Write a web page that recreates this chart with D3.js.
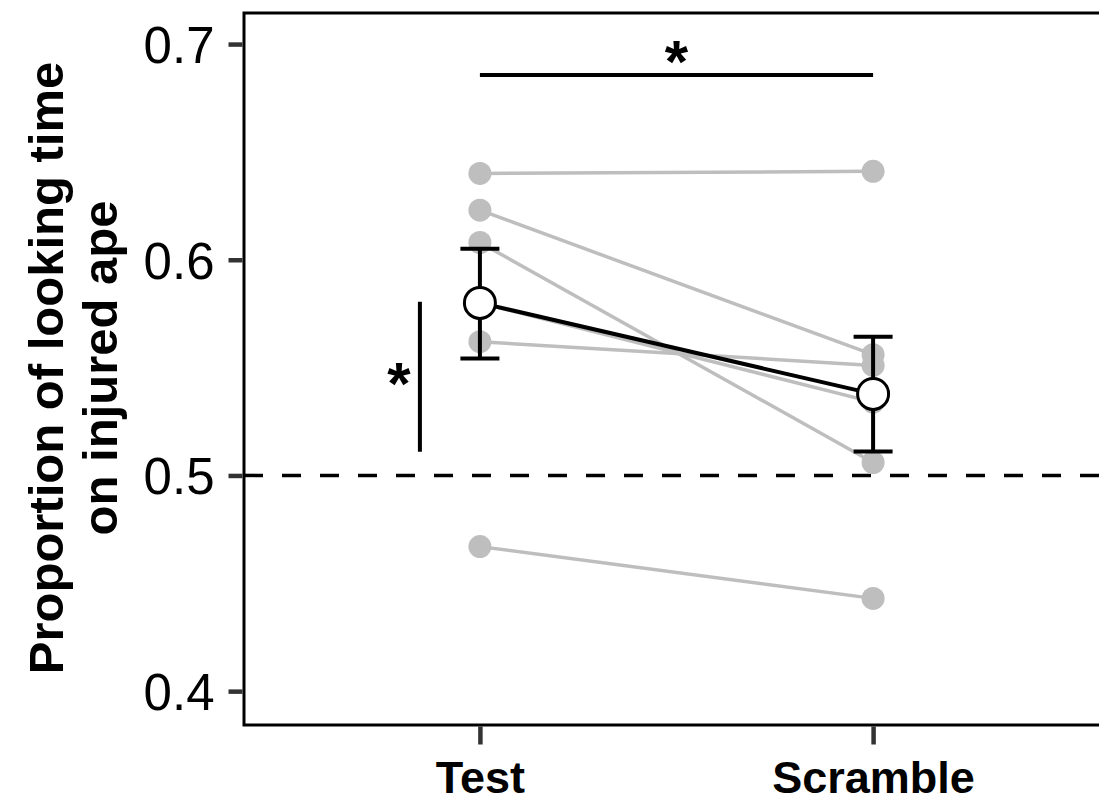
<!DOCTYPE html>
<html lang="en">
<head>
  <meta charset="UTF-8">
  <title>Looking time</title>
  <style>
    body { margin: 0; background: #fff; }
    text { font-family: "Liberation Sans", Arial, sans-serif; }
  </style>
</head>
<body>
  <div id="main"></div>
  <script src="https://cdn.jsdelivr.net/npm/d3@7"></script>
  <script>
    // data
    const conditions = ["Test", "Scramble"]
    const testValues = [0.640, 0.623, 0.608, 0.580, 0.562, 0.467]
    const scrambleValues = [0.641, 0.556, 0.506, 0.534, 0.551, 0.443]
    const means = [0.580, 0.5378]
    const errLow = [0.5542, 0.5111]
    const errHigh = [0.6051, 0.5643]
    const yTicks = [0.4, 0.5, 0.6, 0.7]
    const chanceLevel = 0.5
    // significance: test vs scramble, test vs chance
    const sigPairLevel = 0.6856
    const sigChanceRange = [0.511, 0.5805]

    const W = 1099, H = 803
    const panel = { left: 244, right: 1109, top: 13, bottom: 725 }

    const svg = d3.select('#main').append('svg')
      .attr('width', W)
      .attr('height', H)
      .style('display', 'block')

    const x = d3.scalePoint()
      .domain(conditions)
      .range([panel.left, panel.right])
      .padding(0.6)

    const y = d3.scaleLinear()
      .domain([0.3843, 0.7144])
      .range([panel.bottom, panel.top])

    const grey = '#bebebe'

    // 参考线 0.5
    function drawChance() {
      svg.append('line')
        .attr('x1', panel.left).attr('x2', panel.right)
        .attr('y1', y(chanceLevel)).attr('y2', y(chanceLevel))
        .attr('stroke', '#000')
        .attr('stroke-width', 3.5)
        .attr('stroke-dasharray', '19 19')
    }

    // individual subjects
    function drawSubjects() {
      const pairs = testValues.map((v, i) => [v, scrambleValues[i]])
      svg.append('g').selectAll('line')
        .data(pairs)
        .join('line')
        .attr('x1', x('Test')).attr('x2', x('Scramble'))
        .attr('y1', d => y(d[0])).attr('y2', d => y(d[1]))
        .attr('stroke', grey)
        .attr('stroke-width', 3.5)

      const pts = []
      pairs.forEach(p => {
        pts.push({ c: 'Test', v: p[0] })
        pts.push({ c: 'Scramble', v: p[1] })
      })
      svg.append('g').selectAll('circle')
        .data(pts)
        .join('circle')
        .attr('cx', d => x(d.c))
        .attr('cy', d => y(d.v))
        .attr('r', 11.5)
        .attr('fill', grey)
    }

    // mean + error bars
    function drawMeans() {
      svg.append('line')
        .attr('x1', x(conditions[0])).attr('x2', x(conditions[1]))
        .attr('y1', y(means[0])).attr('y2', y(means[1]))
        .attr('stroke', '#000')
        .attr('stroke-width', 4)

      const g = svg.append('g')
      conditions.forEach((c, i) => {
        const cx = x(c)
        g.append('line')
          .attr('x1', cx).attr('x2', cx)
          .attr('y1', y(errLow[i])).attr('y2', y(errHigh[i]))
          .attr('stroke', '#000').attr('stroke-width', 4)
        ;[errLow[i], errHigh[i]].forEach(v => {
          g.append('line')
            .attr('x1', cx - 19.5).attr('x2', cx + 19.5)
            .attr('y1', y(v)).attr('y2', y(v))
            .attr('stroke', '#000').attr('stroke-width', 4)
        })
        g.append('circle')
          .attr('cx', cx).attr('cy', y(means[i]))
          .attr('r', 15.5)
          .attr('fill', '#fff')
          .attr('stroke', '#000')
          .attr('stroke-width', 3)
      })
    }

    function drawSignif() {
      svg.append('line')
        .attr('x1', x('Test')).attr('x2', x('Scramble'))
        .attr('y1', y(sigPairLevel)).attr('y2', y(sigPairLevel))
        .attr('stroke', '#000').attr('stroke-width', 4)
      svg.append('text')
        .attr('x', (x('Test') + x('Scramble')) / 2)
        .attr('y', y(sigPairLevel) + 7)
        .attr('text-anchor', 'middle')
        .style('font-size', '60px')
        .style('font-weight', 'bold')
        .text('*')

      const vx = x('Test') - 60
      svg.append('line')
        .attr('x1', vx).attr('x2', vx)
        .attr('y1', y(sigChanceRange[0])).attr('y2', y(sigChanceRange[1]))
        .attr('stroke', '#000').attr('stroke-width', 4)
      svg.append('text')
        .attr('x', vx - 21)
        .attr('y', y((sigChanceRange[0] + sigChanceRange[1]) / 2) + 27)
        .attr('text-anchor', 'middle')
        .style('font-size', '60px')
        .style('font-weight', 'bold')
        .text('*')
    }

    function drawAxes() {
      // panel border
      svg.append('rect')
        .attr('x', panel.left).attr('y', panel.top)
        .attr('width', panel.right - panel.left)
        .attr('height', panel.bottom - panel.top)
        .attr('fill', 'none')
        .attr('stroke', '#000')
        .attr('stroke-width', 3)

      const yAxis = svg.append('g')
        .attr('transform', `translate(${panel.left - 1.5},0)`)
        .call(d3.axisLeft(y).tickValues(yTicks).tickSize(14).tickPadding(14).tickFormat(d3.format('.1f')))
      yAxis.select('.domain').remove()
      yAxis.selectAll('.tick line').attr('stroke', '#333').attr('stroke-width', 4.5)
      yAxis.selectAll('.tick text')
        .attr('fill', '#000')
        .style('font-size', '51px')
        .attr('dy', '0.36em')

      const xAxis = svg.append('g')
        .attr('transform', `translate(0,${panel.bottom + 1.5})`)
        .call(d3.axisBottom(x).tickSize(18).tickPadding(12))
      xAxis.select('.domain').remove()
      xAxis.selectAll('.tick line').attr('stroke', '#333').attr('stroke-width', 4.5)
      xAxis.selectAll('.tick text')
        .attr('fill', '#000')
        .style('font-size', '45px')
        .style('font-weight', 'bold')
        .attr('dy', '0.8em')

      const title = svg.append('text')
        .attr('transform', 'translate(63,368) rotate(-90)')
        .attr('text-anchor', 'middle')
        .style('font-size', '49px')
        .style('font-weight', 'bold')
      title.append('tspan').attr('x', 0).attr('dy', 0).text('Proportion of looking time')
      title.append('tspan').attr('x', 0).attr('dy', '1.1em').text('on injured ape')
    }

    function main() {
      drawChance()
      drawSubjects()
      drawMeans()
      drawSignif()
      drawAxes()
    }

    main()
  </script>
</body>
</html>
